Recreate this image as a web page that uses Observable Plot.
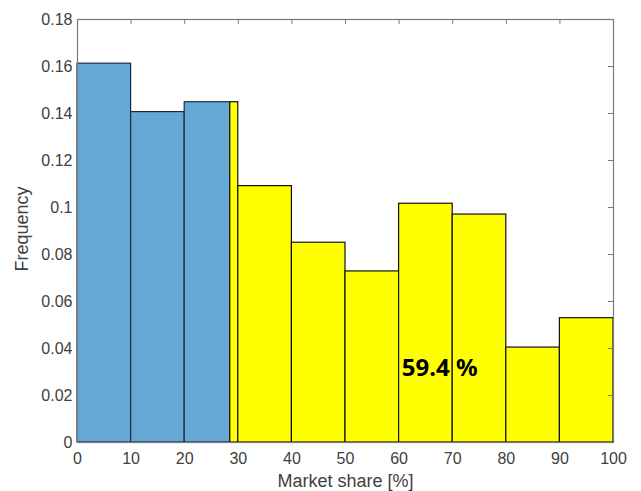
<!DOCTYPE html>
<html>
<head>
<meta charset="utf-8">
<script src="https://cdn.jsdelivr.net/npm/d3@7"></script>
<script src="https://cdn.jsdelivr.net/npm/@observablehq/plot@0.6"></script>
<style>
  html, body { margin: 0; padding: 0; background: #fff; }
</style>
</head>
<body>
<div id="chart"></div>
<script>
// Histogram bins (market share %), frequencies and group
const binStart = [0, 10, 20, 28.5, 30, 40, 50, 60, 70, 80, 90];
const binEnd   = [10, 20, 28.5, 30, 40, 50, 60, 70, 80, 90, 100];
const freq     = [0.1612, 0.1406, 0.1448, 0.1448, 0.1091, 0.0850, 0.0728, 0.1016, 0.0970, 0.0404, 0.0529];
const group    = ["below", "below", "below", "above", "above", "above", "above", "above", "above", "above", "above"];
const xTicks = [0, 10, 20, 30, 40, 50, 60, 70, 80, 90, 100];
const yTicks = [0, 0.02, 0.04, 0.06, 0.08, 0.1, 0.12, 0.14, 0.16, 0.18];
const yTickLabels = ["0", "0.02", "0.04", "0.06", "0.08", "0.1", "0.12", "0.14", "0.16", "0.18"];
const annotation = [{x: 60.5, y: 0.0315, text: "59.4 %"}];
const xLabel = "Market share [%]";
const yLabel = "Frequency";

const bins = binStart.map((s, i) => ({x1: s, x2: binEnd[i], y: freq[i], g: group[i]}));

const W = 641, H = 491;
const mL = 77, mR = 28, mT = 19, mB = 49;
const frameW = W - mL - mR, frameH = H - mT - mB;
const axisColor = "#7a7a7a";
const textColor = "#404040";

const chart = Plot.plot({
  width: W,
  height: H,
  marginLeft: mL,
  marginRight: mR,
  marginTop: mT,
  marginBottom: mB,
  style: {fontFamily: "'Liberation Sans', Arial, sans-serif", fontSize: "16px", color: textColor, background: "#fff"},
  x: {domain: [0, 100], label: null},
  y: {domain: [0, 0.18], label: null},
  color: {domain: ["below", "above"], range: ["#65a8d6", "#ffff00"]},
  marks: [
    // inner ticks on bottom and left (under bars)
    Plot.ruleX(xTicks, {stroke: axisColor, insetTop: frameH - 5}),
    Plot.ruleY(yTicks, {stroke: axisColor, insetRight: frameW - 5}),
    Plot.rectY(bins, {
      x1: "x1", x2: "x2", y: "y",
      fill: "g",
      stroke: d => d.g === "below" ? "#1b2b44" : "#111",
      strokeWidth: 1.2
    }),
    // inner ticks on top and right
    Plot.ruleX(xTicks, {stroke: axisColor, insetBottom: frameH - 5}),
    Plot.ruleY(yTicks, {stroke: axisColor, insetLeft: frameW - 5}),
    Plot.frame({stroke: axisColor, strokeWidth: 1.2}),
    Plot.axisX({ticks: xTicks, tickSize: 0, tickPadding: 10, fill: textColor, fontSize: 16, label: null}),
    Plot.axisY({ticks: yTicks, tickFormat: (d) => yTickLabels[yTicks.indexOf(d)], tickSize: 0, tickPadding: 5, fill: textColor, fontSize: 16, label: null}),
    Plot.text([xLabel], {text: d => d, frameAnchor: "bottom", lineAnchor: "middle", textAnchor: "middle", dy: 39, fill: textColor, fontSize: 18}),
    Plot.text([yLabel], {text: d => d, frameAnchor: "left", textAnchor: "middle", lineAnchor: "middle", dx: -55, dy: -2, rotate: -90, fill: textColor, fontSize: 18}),
    Plot.text(annotation, {x: "x", y: "y", text: "text", textAnchor: "start", fill: "#000", fontSize: 24, fontWeight: "bold", fontFamily: "'Noto Sans', sans-serif"})
  ]
});
document.getElementById("chart").appendChild(chart);
</script>
</body>
</html>
